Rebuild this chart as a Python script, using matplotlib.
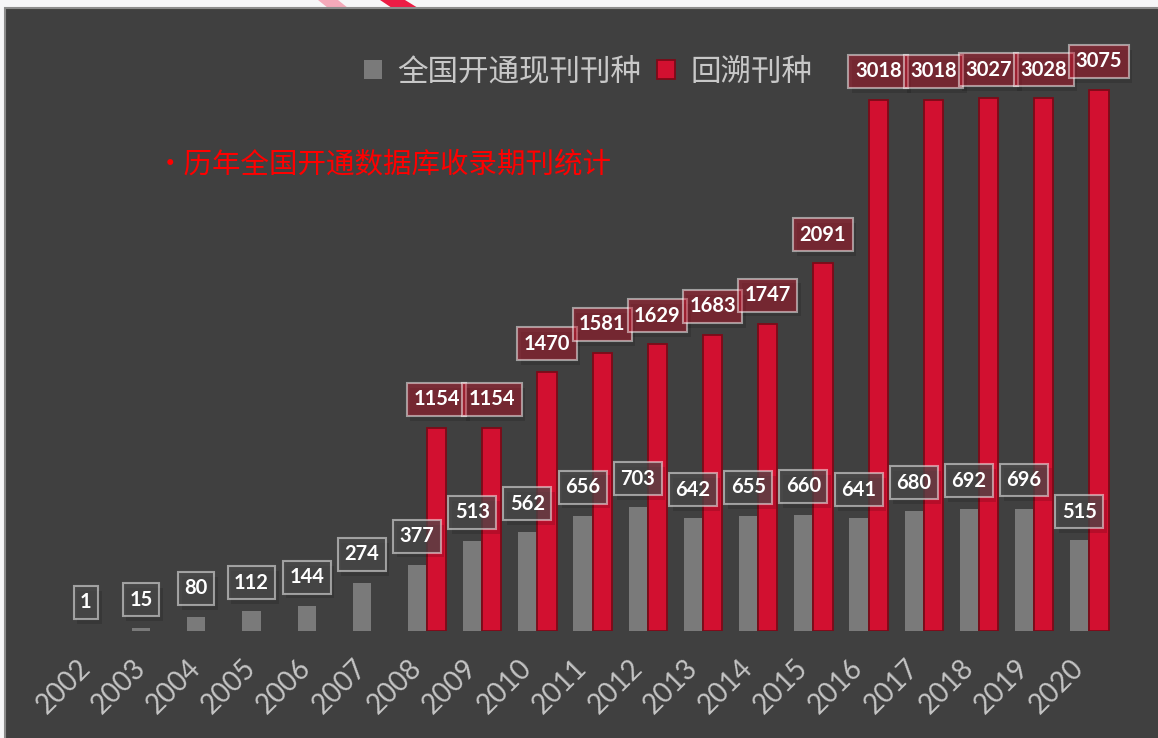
import matplotlib
matplotlib.use('Agg')
import matplotlib.pyplot as plt
from matplotlib.patches import Patch, Rectangle, Polygon

# 数据
years = [str(y) for y in range(2002, 2021)]
current = [1, 15, 80, 112, 144, 274, 377, 513, 562, 656, 703,
           642, 655, 660, 641, 680, 692, 696, 515]
backfile = [0, 0, 0, 0, 0, 0, 1154, 1154, 1470, 1581, 1629,
            1683, 1747, 2091, 3018, 3018, 3027, 3028, 3075]

cjk = ['Noto Sans CJK SC', 'DejaVu Sans']
W, H = 1158, 738

fig = plt.figure(figsize=(W / 100, H / 100), dpi=100)
fig.patch.set_facecolor('#f6f6f8')

# 顶部装饰条
fig.patches.append(Polygon([(318 / W, 1), (338 / W, 1), (348 / W, 1 - 8 / H), (328 / W, 1 - 8 / H)],
                           closed=True, transform=fig.transFigure, facecolor='#f4a9ba',
                           edgecolor='none', zorder=-2))
fig.patches.append(Polygon([(380 / W, 1), (405 / W, 1), (418 / W, 1 - 8 / H), (392 / W, 1 - 8 / H)],
                           closed=True, transform=fig.transFigure, facecolor='#ec1c45',
                           edgecolor='none', zorder=-2))
# 深色面板
fig.patches.append(Rectangle((5 / W, -0.05), 1.2, 1 - 8 / H + 0.05, transform=fig.transFigure,
                             facecolor='#404040', edgecolor='#8c8c8c', linewidth=1.5, zorder=-1))

ax = fig.add_axes([5 / W, 107 / H, 1153 / W, 623 / H])
ax.set_facecolor('none')
ax.set_xlim(-1.64, 19.25)
ax.set_ylim(0, 3540)
for s in ax.spines.values():
    s.set_visible(False)
ax.set_yticks([])

x = list(range(len(years)))
xg = [i - 0.175 for i in x]
xr = [i + 0.18 for i in x]

ax.bar(xg, current, width=0.33, color='#7a7a7a', zorder=2)
xr_on = [xr[i] for i in x if backfile[i] > 0]
br_on = [b for b in backfile if b > 0]
ax.bar(xr_on, br_on, width=0.35, color='#d21030', edgecolor='#7c0a18', linewidth=1.3, zorder=3)


def label(xx, v, face, z):
    # 阴影
    ax.annotate(str(v), (xx, v), xytext=(2.5, 17), textcoords='offset points',
                ha='center', va='center', fontsize=14.5, color='none', family='Lato',
                fontweight='bold', zorder=z - 0.5,
                bbox=dict(boxstyle='square,pad=0.32', facecolor=(0, 0, 0, 0.13), edgecolor='none'))
    ax.annotate(str(v), (xx, v), xytext=(0, 20.5), textcoords='offset points',
                ha='center', va='center', fontsize=14.5, color='white', family='Lato',
                fontweight='bold', zorder=z,
                bbox=dict(boxstyle='square,pad=0.32', facecolor=face,
                          edgecolor=(1, 1, 1, 0.5), linewidth=1.5))


for i in x:
    label(xg[i], current[i], (0.29, 0.29, 0.29, 0.72), 5)
for i in x:
    if backfile[i] > 0:
        label(xr[i], backfile[i], (0.82, 0.06, 0.16, 0.4), 7)

ax.set_xticks(x)
ax.set_xticklabels(years, rotation=45, ha='right', fontsize=20, color='#c4c4c4', family='Lato')
ax.tick_params(axis='x', length=0, pad=17)

handles = [Patch(facecolor='#7a7a7a', edgecolor='none'),
           Patch(facecolor='#d21030', edgecolor='#7c0a18', linewidth=1.3)]
leg = fig.legend(handles, ['全国开通现刊刊种', '回溯刊种'], loc='center',
                 bbox_to_anchor=(588 / W, 1 - 72 / H), ncol=2, frameon=False,
                 prop={'family': cjk, 'size': 22}, labelcolor='#c8c8c8',
                 handlelength=0.6, handleheight=0.6, handletextpad=0.5, columnspacing=0.5)

fig.text(156 / W, 1 - 164 / H, '•历年全国开通数据库收录期刊统计', color='#ff0000',
         fontsize=20.5, family=cjk, fontweight='medium', ha='left', va='center')

fig.savefig('out.png', dpi=100, facecolor=fig.get_facecolor())
